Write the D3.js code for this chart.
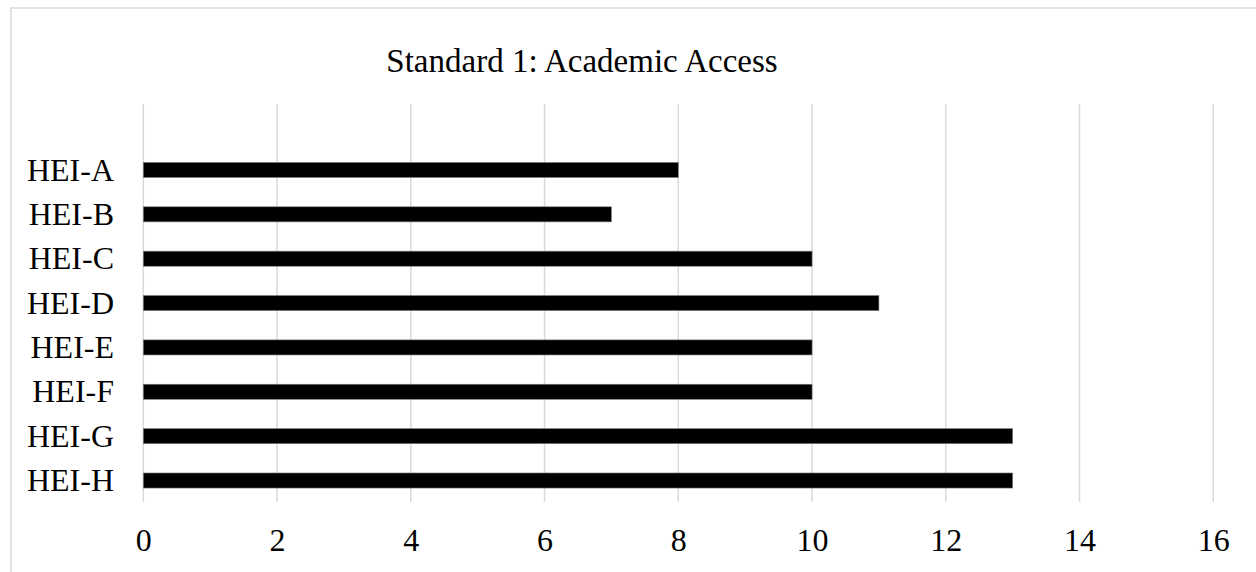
<!DOCTYPE html>
<html>
<head>
<meta charset="utf-8">
<script src="https://cdn.jsdelivr.net/npm/d3@7"></script>
<style>
  html, body { margin: 0; padding: 0; background: #fff; }
  svg { display: block; }
  text { font-family: "Liberation Serif", "Times New Roman", serif; fill: #000; }
</style>
</head>
<body>
<svg id="chart" width="1256" height="572"></svg>
<script>
// Institutions and their Standard 1 scores
const categories = ["HEI-A", "HEI-B", "HEI-C", "HEI-D", "HEI-E", "HEI-F", "HEI-G", "HEI-H"];
const scores = [8, 7, 10, 11, 10, 10, 13, 13];
const xTicks = [0, 2, 4, 6, 8, 10, 12, 14, 16];
const title = "Standard 1: Academic Access";

const data = categories.map((c, i) => ({ name: c, value: scores[i] }));

const svg = d3.select("#chart");

// chart frame
svg.append("rect")
  .attr("x", 11).attr("y", 8)
  .attr("width", 1260).attr("height", 580)
  .attr("fill", "none")
  .attr("stroke", "#d9d9d9")
  .attr("stroke-width", 1.5);

const x = d3.scaleLinear().domain([0, 16]).range([143.3, 1213.3]);
const y = d3.scaleBand().domain(categories).range([147.8, 502.7]).paddingInner(0.66).paddingOuter(0.33);

const gridTop = 104, gridBottom = 502;

// vertical gridlines
svg.append("g")
  .selectAll("line")
  .data(xTicks)
  .join("line")
  .attr("x1", d => x(d)).attr("x2", d => x(d))
  .attr("y1", gridTop).attr("y2", gridBottom)
  .attr("stroke", "#d9d9d9")
  .attr("stroke-width", 1.5);

// bars
svg.append("g")
  .selectAll("rect")
  .data(data)
  .join("rect")
  .attr("x", x(0))
  .attr("y", d => y(d.name))
  .attr("width", d => x(d.value) - x(0))
  .attr("height", y.bandwidth())
  .attr("fill", "#000")
  .attr("stroke", "#7f7f7f")
  .attr("stroke-width", 0.6);

// x axis labels
const xAxis = d3.axisBottom(x).tickValues(xTicks).tickSize(0).tickPadding(0).tickFormat(d3.format("d"));
const gx = svg.append("g").attr("transform", "translate(0,528)").call(xAxis);
gx.select(".domain").remove();
gx.selectAll("text")
  .attr("y", 0).attr("dy", "0.71em")
  .style("font-size", "32px")
  .style("font-family", "'Liberation Serif', 'Times New Roman', serif")
  .attr("fill", "#000");

// y axis labels
const yAxis = d3.axisLeft(y).tickSize(0).tickPadding(0);
const gy = svg.append("g").attr("transform", "translate(114,0)").call(yAxis);
gy.select(".domain").remove();
gy.selectAll("text")
  .attr("x", 0).attr("dy", "0.33em")
  .style("font-size", "32px")
  .style("font-family", "'Liberation Serif', 'Times New Roman', serif")
  .attr("fill", "#000");

// title
svg.append("text")
  .attr("x", 582).attr("y", 72)
  .attr("text-anchor", "middle")
  .style("font-size", "33px")
  .text(title);
</script>
</body>
</html>
